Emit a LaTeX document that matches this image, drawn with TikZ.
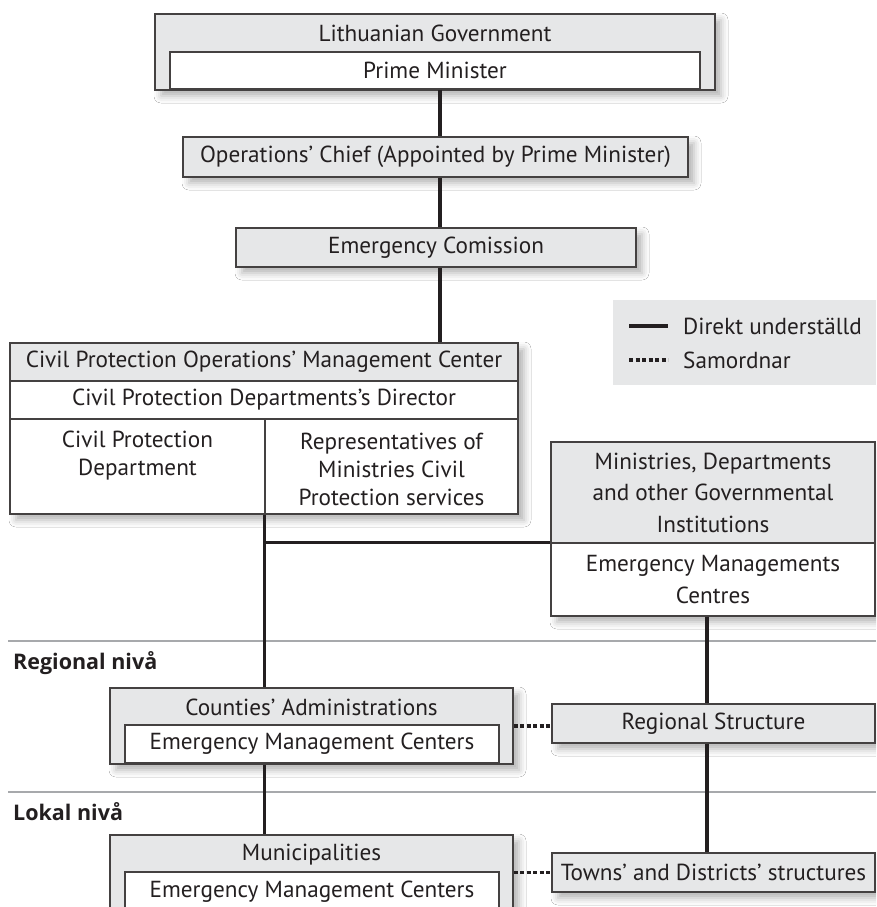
\documentclass[tikz,border=0pt]{standalone}
\usepackage{fontspec}
\setmainfont{PT Sans}
\newfontfamily\lvlfont{Open Sans}
\usetikzlibrary{shadows.blur}
\definecolor{boxgray}{HTML}{E6E7E8}
\definecolor{ink}{HTML}{231F20}
\definecolor{sepgray}{HTML}{A7A9AC}
\newcommand{\bodyfont}{\fontsize{23.2}{28}\selectfont}
\tikzset{
  box/.style={draw=ink!85, line width=1.3pt, inner sep=0pt, align=center, text=ink, font=\bodyfont},
  graybox/.style={box, fill=boxgray},
  whitebox/.style={box, fill=white},
  txt/.style={inner sep=0pt, align=center, text=ink, font=\bodyfont},
  wide/.style={inner sep=0pt, align=center, text=ink, font=\fontsize{23.2}{31.5}\selectfont},
  lvl/.style={inner sep=0pt, anchor=base west, text=ink, font=\lvlfont\fontsize{21.5}{25}\selectfont\bfseries},
  conn/.style={draw=ink, line width=3.3pt},
  coordline/.style={draw=ink, line width=3.3pt, dash pattern=on 4pt off 2.5pt},
  shad/.style={blur shadow={shadow xshift=6pt, shadow yshift=-6pt, shadow blur radius=7pt, shadow opacity=30}},
  sepline/.style={draw=sepgray, line width=2pt},
}
\begin{document}
\begin{tikzpicture}[x=1pt, y=-1pt]
\useasboundingbox (0,0) rectangle (876,907);
\clip (0,0) rectangle (876,907);
\fill[white] (0,0) rectangle (876,907);

% spine coordinates for connectors
\coordinate (spine) at (440,0);
\coordinate (rspine) at (707,0);

% top box
\node[graybox, shad, minimum width=560pt, minimum height=76pt] (gov) at (435,52) {};
\node[txt] (govt) at (435,33) {Lithuanian Government};
\node[whitebox, minimum width=530pt, minimum height=37pt] (pm) at (435,70.5) {Prime Minister};

% operations chief
\node[graybox, shad, minimum width=505pt, minimum height=40pt] (ops) at (435.5,157) {Operations’ Chief (Appointed by Prime Minister)};

% emergency commission
\node[graybox, shad, minimum width=400pt, minimum height=39pt] (ec) at (436,247.5) {Emergency Comission};

% civil protection block
\path[shad, fill=white] (10,343) rectangle (518,514);
\node[graybox, minimum width=508pt, minimum height=38pt] (cph) at (264,362) {Civil Protection Operations’ Management Center};
\node[whitebox, minimum width=508pt, minimum height=38pt] (cpd) at (264,400) {Civil Protection Departments’s Director};
\node[whitebox, minimum width=255pt, minimum height=95pt] (cpl) at (137.5,466.5) {};
\node[whitebox, minimum width=253pt, minimum height=95pt] (cpr) at (391.5,466.5) {};
\node[txt] (cplt) at (137.5,455.5) {Civil Protection\\Department};
\node[txt] (cprt) at (391.5,469) {Representatives of\\Ministries Civil\\Protection services};

% legend
\node[fill=boxgray, minimum width=263pt, minimum height=85pt, inner sep=0pt] (leg) at (744.5,342.5) {};
\coordinate (l1a) at (629,326); \coordinate (l1b) at (668,326);
\coordinate (l2a) at (629,360); \coordinate (l2b) at (668,360);
\draw[conn] (l1a) -- (l1b);
\draw[coordline] (l2a) -- (l2b);
\node[txt, anchor=west] (legt1) at (683,326) {Direkt underställd};
\node[txt, anchor=west] (legt2) at (683,360) {Samordnar};

% ministries
\path[shad, fill=white] (551,442) rectangle (875,616);
\node[graybox, minimum width=324pt, minimum height=101pt, wide] (minh) at (713,492.5) {Ministries, Departments\\and other Governmental\\Institutions};
\node[whitebox, minimum width=324pt, minimum height=73pt, wide] (mine) at (713,579.5) {Emergency Managements\\Centres};

% level separators
\draw[sepline] (8,641) -- (876,641);
\draw[sepline] (8,792) -- (876,792);
\node[lvl] (lreg) at (13,669) {Regional nivå};
\node[lvl] (llok) at (13,820) {Lokal nivå};

% counties
\node[graybox, shad, minimum width=403pt, minimum height=76pt] (cty) at (311.5,726) {};
\node[txt] (ctyt) at (311.5,707) {Counties’ Administrations};
\node[whitebox, minimum width=374pt, minimum height=38pt] (ctyi) at (312,744) {Emergency Management Centers};

% regional structure
\node[graybox, shad, minimum width=323pt, minimum height=39pt] (reg) at (713.5,723.5) {Regional Structure};

% municipalities
\node[graybox, shad, minimum width=403pt, minimum height=90pt] (mun) at (311.5,880) {};
\node[txt] (munt) at (311.5,855) {Municipalities};
\node[whitebox, minimum width=374pt, minimum height=53pt] (muni) at (312,898.5) {};
\node[txt] (munit) at (312,892) {Emergency Management Centers};

% towns
\node[graybox, shad, minimum width=323pt, minimum height=39pt] (town) at (713.5,872.5) {Towns’ and Districts’ structures};

% connectors
\draw[conn] (pm.south -| spine) -- (ops.north -| spine);
\draw[conn] (ops.south -| spine) -- (ec.north -| spine);
\draw[conn] (ec.south -| spine) -- (cph.north -| spine);
\draw[conn] (cpr.south west) -- (cty.north -| cpr.south west);
\draw[conn] (cpr.south west |- mine.north west) -- (mine.north west);
\draw[conn] (mine.south -| rspine) -- (reg.north -| rspine);
\draw[conn] (reg.south -| rspine) -- (town.north -| rspine);
\draw[conn] (cty.south -| cpr.south west) -- (mun.north -| cpr.south west);
\draw[coordline] (cty.east) -- (cty.east -| reg.west);
\draw[coordline] (town.west -| mun.east) -- (town.west);
\end{tikzpicture}
\end{document}
